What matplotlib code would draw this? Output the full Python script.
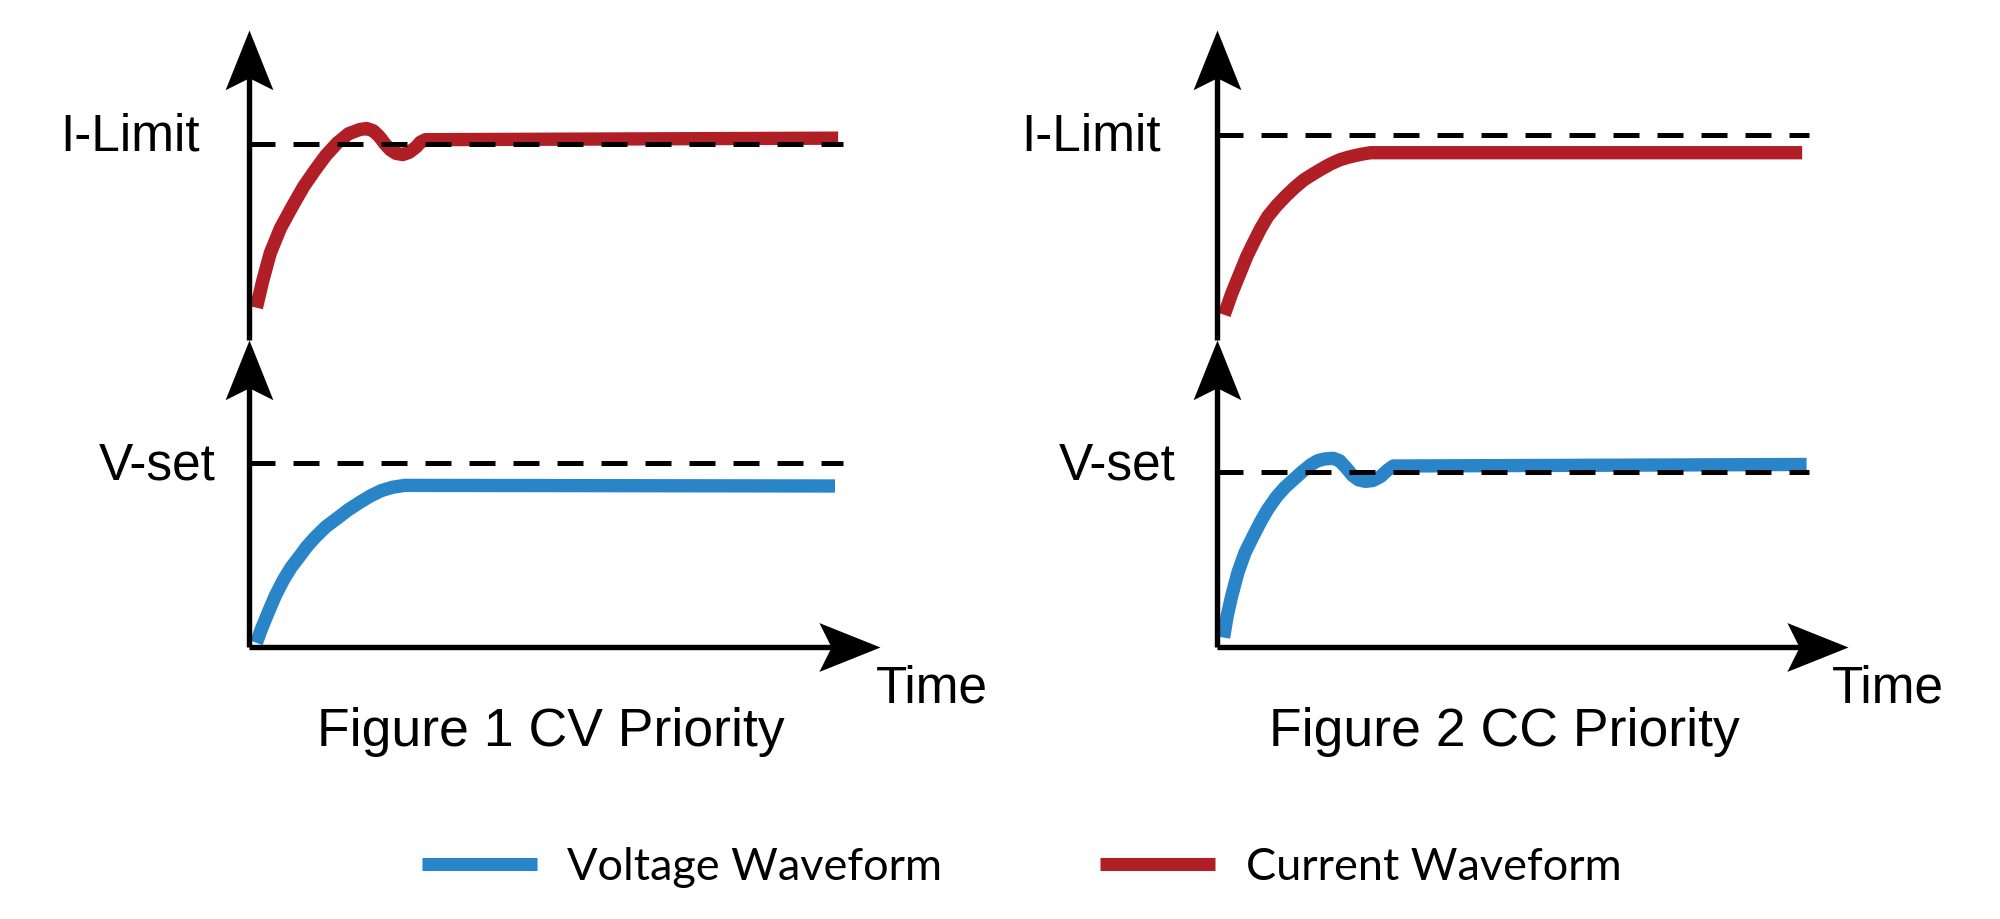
import matplotlib
matplotlib.use("Agg")
from matplotlib import pyplot as plt
from matplotlib.path import Path
from matplotlib.lines import Line2D

# niveaux de consigne (fraction de la hauteur de chaque demi-axe)
I_LIMIT = [0.632, 0.661]
V_SET = [0.600, 0.571]

# Figure 1 : CV priority
cv_t_courant = [0.12, 0.22, 0.34, 0.50, 0.69, 0.87, 1.05, 1.22, 1.40, 1.58, 1.76, 1.87, 1.97, 2.05,
                2.10, 2.15, 2.24, 2.33, 2.44, 2.54, 2.65, 2.72, 2.80, 9.34]
cv_i = [0.104, 0.190, 0.280, 0.360, 0.431, 0.495, 0.548, 0.595, 0.635, 0.665, 0.679, 0.682, 0.675, 0.660,
        0.648, 0.634, 0.614, 0.602, 0.598, 0.605, 0.622, 0.638, 0.646, 0.651]
cv_t_tension = [0.12, 0.20, 0.30, 0.42, 0.55, 0.67, 0.80, 0.92, 1.05, 1.22, 1.40, 1.58, 1.76, 1.93,
                2.10, 2.28, 2.47, 9.29]
cv_v = [0.015, 0.060, 0.110, 0.168, 0.220, 0.260, 0.295, 0.328, 0.358, 0.392, 0.420, 0.448, 0.472, 0.493,
        0.510, 0.521, 0.527, 0.525]

# Figure 2 : CC priority
cc_t_courant = [0.12, 0.24, 0.37, 0.48, 0.60, 0.70, 0.81, 0.95, 1.10, 1.24, 1.38, 1.52, 1.65, 1.80,
                1.95, 2.08, 2.20, 2.32, 2.44, 9.28]
cc_i = [0.081, 0.150, 0.215, 0.270, 0.320, 0.360, 0.398, 0.433, 0.465, 0.492, 0.516, 0.534, 0.550, 0.567,
        0.581, 0.589, 0.595, 0.600, 0.604, 0.604]
cc_t_tension = [0.11, 0.17, 0.24, 0.34, 0.45, 0.58, 0.70, 0.81, 0.95, 1.08, 1.22, 1.36, 1.50, 1.60,
                1.71, 1.85, 1.95, 2.05, 2.15, 2.25, 2.36, 2.48, 2.60, 2.70, 2.80, 9.35]
cc_v = [0.032, 0.105, 0.168, 0.245, 0.308, 0.362, 0.410, 0.449, 0.490, 0.520, 0.546, 0.572, 0.595, 0.607,
        0.613, 0.615, 0.607, 0.585, 0.560, 0.545, 0.540, 0.543, 0.556, 0.575, 0.590, 0.595]

titres = ["Figure 1 CV Priority", "Figure 2 CC Priority"]
fin_pointilles = [9.41, 9.39]
legende = ["Voltage Waveform", "Current Waveform"]

BLEU = "#2a84c8"
ROUGE = "#b01f25"
POLICE = "Liberation Sans"

# pointes de fleche (encoche a l'arriere), la pointe est a l'origine
fleche_haut = Path([(0, 0), (0.4, -1), (0, -0.8), (-0.4, -1), (0, 0)],
                   [Path.MOVETO, Path.LINETO, Path.LINETO, Path.LINETO, Path.CLOSEPOLY])
fleche_droite = Path([(0, 0), (-1, 0.4), (-0.8, 0), (-1, -0.4), (0, 0)],
                     [Path.MOVETO, Path.LINETO, Path.LINETO, Path.LINETO, Path.CLOSEPOLY])

fig = plt.figure(figsize=(20, 9.19), dpi=100)

x_gauche = [0.1244, 0.6083]
largeur = 0.3155
bas_v, haut_v, haut_i = 0.2955, 0.6301, 0.9674


def axes_fleches(ax, axe_x):
    kw = dict(color="k", lw=3.9, solid_capstyle="butt", clip_on=False, zorder=5)
    ax.plot([0, 0], [0, 0.9], **kw)
    ax.plot([0], [1], marker=fleche_haut, ms=86, mfc="k", mec="k", mew=0,
            clip_on=False, zorder=6)
    if axe_x:
        ax.plot([0, 9.5], [0, 0], **kw)
        ax.plot([10], [0], marker=fleche_droite, ms=88, mfc="k", mec="k", mew=0,
                clip_on=False, zorder=6)
    ax.set_xlim(0, 10)
    ax.set_ylim(0, 1)
    ax.axis("off")


donnees = [(cv_t_courant, cv_i, cv_t_tension, cv_v),
           (cc_t_courant, cc_i, cc_t_tension, cc_v)]

for k in range(2):
    t_i, i, t_v, v = donnees[k]
    ax_v = fig.add_axes([x_gauche[k], bas_v, largeur, haut_v - bas_v])
    ax_i = fig.add_axes([x_gauche[k], haut_v, largeur, haut_i - haut_v])

    ax_v.plot(t_v, v, color=BLEU, lw=9.6, solid_capstyle="butt", solid_joinstyle="round", zorder=3)
    ax_i.plot(t_i, i, color=ROUGE, lw=9.6, solid_capstyle="butt", solid_joinstyle="round", zorder=3)

    ax_v.plot([0, fin_pointilles[k]], [V_SET[k]] * 2, color="k", lw=3.6,
              dashes=(5.2, 3.6), dash_capstyle="butt", zorder=4)
    ax_i.plot([0, fin_pointilles[k]], [I_LIMIT[k]] * 2, color="k", lw=3.6,
              dashes=(5.2, 3.6), dash_capstyle="butt", zorder=4)

    axes_fleches(ax_v, True)
    axes_fleches(ax_i, False)

# libelles
fig.text(0.100, 0.8357, "I-Limit", ha="right", va="baseline", fontsize=37, family=POLICE)
fig.text(0.5806, 0.8357, "I-Limit", ha="right", va="baseline", fontsize=37, family=POLICE)
fig.text(0.108, 0.4777, "V-set", ha="right", va="baseline", fontsize=37, family=POLICE)
fig.text(0.5878, 0.4777, "V-set", ha="right", va="baseline", fontsize=37, family=POLICE)
fig.text(0.438, 0.2361, "Time", ha="left", va="baseline", fontsize=37, family=POLICE)
fig.text(0.916, 0.2361, "Time", ha="left", va="baseline", fontsize=37, family=POLICE)
fig.text(0.2756, 0.1883, titres[0], ha="center", va="baseline", fontsize=38.5, family=POLICE)
fig.text(0.752, 0.1883, titres[1], ha="center", va="baseline", fontsize=38.5, family=POLICE)

# legende : une entree par appel pour caler chaque pastille
couleurs = [BLEU, ROUGE]
x_legende = [0.2108, 0.5500]
for k in range(2):
    poignee = Line2D([], [], color=couleurs[k], lw=9.4, solid_capstyle="butt")
    fig.legend([poignee], [legende[k]], loc="center left", bbox_to_anchor=(x_legende[k], 0.0565),
               frameon=False, borderpad=0, borderaxespad=0,
               handlelength=2.55, handletextpad=0.68,
               prop=dict(family="Lato", size=32.5))

fig.savefig("out.png", dpi=100)
